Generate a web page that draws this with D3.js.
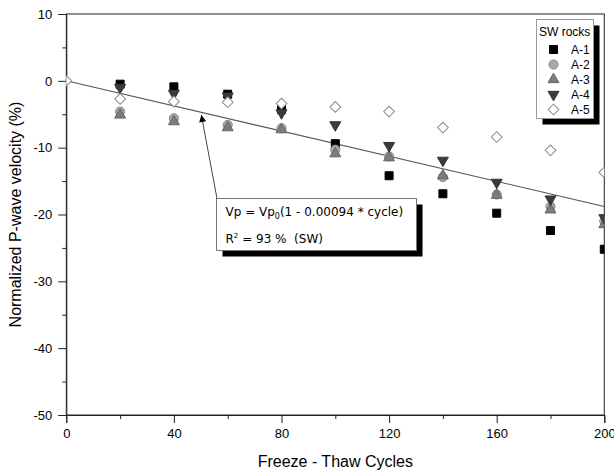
<!DOCTYPE html>
<html>
<head>
<meta charset="utf-8">
<script src="https://cdn.jsdelivr.net/npm/d3@7"></script>
<style>
  body { margin: 0; background: #fff; }
  svg { display: block; font-family: Arial, "Liberation Sans", sans-serif; }
</style>
</head>
<body>
<svg width="614" height="475"></svg>
<script>
// Data
const cycles = [0, 20, 40, 60, 80, 100, 120, 140, 160, 180, 200];
const a1 = [null, -0.5, -0.9, -2.0, -4.3, -9.4, -14.2, -16.9, -19.8, -22.4, -25.2];
const a2 = [null, -4.6, -5.6, -6.6, -7.1, -10.3, -11.3, -14.4, -17.0, -18.8, -21.0];
const a3 = [null, -5.1, -6.1, -7.0, -7.3, -10.9, -11.5, -14.2, -17.1, -19.3, -21.5];
const a4 = [null, -1.0, -1.9, -2.3, -4.8, -6.6, -9.7, -11.9, -15.2, -17.7, -20.5];
const a5 = [0, -2.7, -3.1, -3.2, -3.4, -3.9, -4.6, -7.0, -8.4, -10.4, -13.7];
const seriesNames = ["A-1", "A-2", "A-3", "A-4", "A-5"];
const xTicks = [0, 40, 80, 120, 160, 200];
const yTicks = [10, 0, -10, -20, -30, -40, -50];
const fitSlope = -0.094; // % per cycle

const svg = d3.select("svg");
const pL = 66.3, pR = 604.3, pT = 14, pB = 415;

const x = d3.scaleLinear().domain([0, 200]).range([pL, pR]);
const y = d3.scaleLinear().domain([-50, 10]).range([pB, pT]);

// marker styles per series
const styles = [
  { type: d3.symbolSquare, size: 64, rot: 0, fill: "#000", stroke: "#000" },
  { type: d3.symbolCircle, size: 66, rot: 0, fill: "#a8a8a8", stroke: "#8a8a8a" },
  { type: d3.symbolTriangle, size: 52, rot: 0, fill: "#7c7c7c", stroke: "#666" },
  { type: d3.symbolTriangle, size: 52, rot: 180, fill: "#3c3c3c", stroke: "#333" },
  { type: d3.symbolSquare, size: 58, rot: 45, fill: "#fff", stroke: "#8a8a8a" }
];
const allSeries = [a1, a2, a3, a4, a5];

svg.append("clipPath").attr("id", "plot")
  .append("rect")
  .attr("x", pL).attr("y", pT)
  .attr("width", pR - pL).attr("height", pB - pT);

// frame
svg.append("rect")
  .attr("x", pL).attr("y", pT)
  .attr("width", pR - pL).attr("height", pB - pT)
  .attr("fill", "none").attr("stroke", "#222").attr("stroke-width", 1);

// x axis
const xAxis = svg.append("g").attr("transform", `translate(0,${pB})`)
  .call(d3.axisBottom(x).tickValues(xTicks).tickSize(8).tickPadding(6).tickFormat(d3.format("d")));
svg.append("g").attr("transform", `translate(0,${pB})`)
  .call(d3.axisBottom(x).tickValues(d3.range(20, 200, 40)).tickSize(4).tickFormat(""))
  .select(".domain").remove();
xAxis.selectAll("text").attr("font-size", 13).attr("font-family", "Arial, 'Liberation Sans', sans-serif").attr("fill", "#000");

// y axis
const yAxis = svg.append("g").attr("transform", `translate(${pL},0)`)
  .call(d3.axisLeft(y).tickValues(yTicks).tickSize(8).tickPadding(6).tickFormat(d3.format("d")));
svg.append("g").attr("transform", `translate(${pL},0)`)
  .call(d3.axisLeft(y).tickValues(d3.range(-45, 10, 10)).tickSize(4).tickFormat(""))
  .select(".domain").remove();
yAxis.selectAll("text").attr("font-size", 13).attr("font-family", "Arial, 'Liberation Sans', sans-serif").attr("fill", "#000")
  .text(d => d < 0 ? "-" + Math.abs(d) : d);

svg.selectAll(".domain").attr("stroke", "#222");
svg.selectAll(".tick line").attr("stroke", "#222");

// axis titles
svg.append("text")
  .attr("x", (pL + pR) / 2).attr("y", 467)
  .attr("text-anchor", "middle").attr("font-size", 16)
  .text("Freeze - Thaw Cycles");
svg.append("text")
  .attr("transform", `translate(21,${(pT + pB) / 2}) rotate(-90)`)
  .attr("text-anchor", "middle").attr("font-size", 16)
  .text("Normalized P-wave velocity (%)");

// fitted line
const plot = svg.append("g").attr("clip-path", "url(#plot)");
plot.append("line")
  .attr("x1", x(0)).attr("y1", y(0))
  .attr("x2", x(200)).attr("y2", y(fitSlope * 200))
  .attr("stroke", "#555").attr("stroke-width", 1.1);

// markers
allSeries.forEach((vals, i) => {
  const st = styles[i];
  const sym = d3.symbol().type(st.type).size(st.size);
  plot.append("g").selectAll("path")
    .data(cycles.map((c, j) => ({ c, v: vals[j] })).filter(d => d.v !== null))
    .join("path")
    .attr("d", sym)
    .attr("transform", d => `translate(${x(d.c)},${y(d.v)}) rotate(${st.rot})`)
    .attr("fill", st.fill).attr("stroke", st.stroke).attr("stroke-width", 1);
});

// annotation box with equation
const box = { x: 216.5, y: 198.5, w: 200, h: 52 };
svg.append("rect")
  .attr("x", box.x + 6).attr("y", box.y + 6).attr("width", box.w).attr("height", box.h)
  .attr("fill", "#000");
svg.append("rect")
  .attr("x", box.x).attr("y", box.y).attr("width", box.w).attr("height", box.h)
  .attr("fill", "#fff").attr("stroke", "#777");
const eq = svg.append("text")
  .attr("x", box.x + 9).attr("y", 215.5)
  .attr("font-family", "'DejaVu Sans', Verdana, sans-serif").attr("font-size", 12);
eq.append("tspan").text("Vp = Vp");
eq.append("tspan").attr("font-size", 8).attr("dy", 3).text("0");
eq.append("tspan").attr("dy", -3).text("(1 - 0.00094 * cycle)");
const r2 = svg.append("text")
  .attr("x", box.x + 9).attr("y", 243)
  .attr("font-family", "'DejaVu Sans', Verdana, sans-serif").attr("font-size", 12);
r2.append("tspan").text("R");
r2.append("tspan").attr("font-size", 7).attr("dy", -5).text("2");
r2.append("tspan").attr("dy", 5).attr("xml:space", "preserve").text(" = 93 %  (SW)");

// arrow from box to the fit line
svg.append("defs").append("marker")
  .attr("id", "arr").attr("viewBox", "0 0 10 10")
  .attr("refX", 10).attr("refY", 5)
  .attr("markerWidth", 10).attr("markerHeight", 7)
  .attr("markerUnits", "userSpaceOnUse")
  .attr("orient", "auto")
  .append("path").attr("d", "M0,0L10,5L0,10Z").attr("fill", "#000");
svg.append("line")
  .attr("x1", box.x + 0.5).attr("y1", box.y)
  .attr("x2", x(50.2)).attr("y2", y(-5.1))
  .attr("stroke", "#444").attr("stroke-width", 1)
  .attr("marker-end", "url(#arr)");

// legend
const lg = { x: 536.5, y: 19.5, w: 57, h: 99 };
svg.append("rect")
  .attr("x", lg.x + 6).attr("y", lg.y + 6).attr("width", lg.w).attr("height", lg.h)
  .attr("fill", "#000");
svg.append("rect")
  .attr("x", lg.x).attr("y", lg.y).attr("width", lg.w).attr("height", lg.h)
  .attr("fill", "#fff").attr("stroke", "#999");
svg.append("text")
  .attr("x", lg.x + 2.5).attr("y", 36).attr("font-size", 12)
  .text("SW rocks");
seriesNames.forEach((name, i) => {
  const st = styles[i];
  const cy = 49.5 + i * 15;
  svg.append("path")
    .attr("d", d3.symbol().type(st.type).size(st.size)())
    .attr("transform", `translate(553.5,${cy}) rotate(${st.rot})`)
    .attr("fill", st.fill).attr("stroke", st.stroke);
  svg.append("text")
    .attr("x", 571).attr("y", cy + 4.5).attr("font-size", 12)
    .text(name);
});
</script>
</body>
</html>
